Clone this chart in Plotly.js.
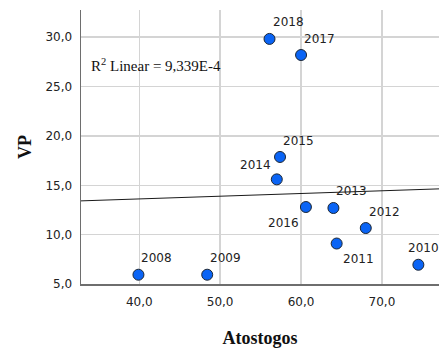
<!DOCTYPE html>
<html>
<head>
<meta charset="utf-8">
<script src="https://cdn.plot.ly/plotly-3.0.1.min.js"></script>
<style>html,body{margin:0;padding:0;background:#fff;}#chart{width:439px;height:348px;}</style>
</head>
<body>
<div id="chart"></div>
<script>
// Data
const years = ["2008","2009","2010","2011","2012","2013","2014","2015","2016","2017","2018"];
const atostogos = [39.9, 48.4, 74.5, 64.4, 68.0, 64.0, 57.0, 57.4, 60.6, 60.0, 56.1];
const vp = [5.94, 5.94, 6.95, 9.1, 10.67, 12.7, 15.6, 17.87, 12.8, 28.2, 29.83];
const xTicks = [40, 50, 60, 70];
const yTicks = [5, 10, 15, 20, 25, 30];
const r2Text = "R<sup>2</sup> Linear = 9,339E-4";

// Label placement (style): [xanchor, xshift, yshift]
const labelPlace = {
  "2008": ["left", 2, 17], "2009": ["left", 2, 17], "2010": ["left", -11, 17],
  "2011": ["left", 5, -15], "2012": ["left", 2, 16], "2013": ["left", 2, 17],
  "2014": ["right", -5, 14], "2015": ["left", 2, 16], "2016": ["right", -6, -16],
  "2017": ["left", 2, 16], "2018": ["left", 2, 17]
};

const xRange = [32.8, 77.05];
const yRange = [5, 32.76];

// Linear fit
const n = atostogos.length;
const mx = atostogos.reduce((a, b) => a + b, 0) / n;
const my = vp.reduce((a, b) => a + b, 0) / n;
let sxy = 0, sxx = 0;
for (let i = 0; i < n; i++) { sxy += (atostogos[i] - mx) * (vp[i] - my); sxx += (atostogos[i] - mx) ** 2; }
const slope = sxy / sxx, intercept = my - slope * mx;

const fitTrace = {
  x: xRange, y: xRange.map(v => intercept + slope * v),
  mode: "lines", line: {color: "#1a1a1a", width: 1}, hoverinfo: "skip", cliponaxis: true
};
const pts = {
  x: atostogos, y: vp, mode: "markers", cliponaxis: false,
  marker: {size: 11, color: "#0a64f5", line: {color: "#1c2633", width: 1}}
};

const annotations = years.map((yr, i) => ({
  x: atostogos[i], y: vp[i], xref: "x", yref: "y", text: yr, showarrow: false,
  xanchor: labelPlace[yr][0], yanchor: "middle", xshift: labelPlace[yr][1], yshift: labelPlace[yr][2],
  borderpad: 0, font: {family: "DejaVu Sans", size: 12, color: "#222"}
}));
annotations.push({
  xref: "paper", yref: "paper", x: 9 / 358, y: (284 - 65) / 274, xanchor: "left", yanchor: "middle",
  text: r2Text, showarrow: false, borderpad: 0, font: {family: "Liberation Serif", size: 15, color: "#111"}
});

const layout = {
  width: 439, height: 348, margin: {l: 81, r: 0, t: 10, b: 64},
  paper_bgcolor: "#fff", plot_bgcolor: "#fff", showlegend: false, separators: ",.",
  font: {family: "DejaVu Sans", size: 12, color: "#222"},
  xaxis: {
    range: xRange, tickvals: xTicks, tickformat: ".1f", showgrid: true, gridcolor: "#d4d4d4", gridwidth: 1.5,
    zeroline: false, showline: true, linecolor: "#6e6e6e", linewidth: 1.5, ticks: "", ticklabelstandoff: 6,
    title: {text: "<b>Atostogos</b>", font: {family: "Liberation Serif", size: 18, color: "#111"}, standoff: 25}
  },
  yaxis: {
    range: yRange, tickvals: yTicks, tickformat: ".1f", showgrid: true, gridcolor: "#d4d4d4", gridwidth: 1.5,
    zeroline: false, showline: true, linecolor: "#6e6e6e", linewidth: 1.5, ticks: "", ticklabelstandoff: 5,
    title: {text: "<b>VP</b>", font: {family: "Liberation Serif", size: 18, color: "#111"}, standoff: 9}
  },
  annotations: annotations
};

Plotly.newPlot("chart", [fitTrace, pts], layout, {staticPlot: true, displayModeBar: false});
</script>
</body>
</html>
